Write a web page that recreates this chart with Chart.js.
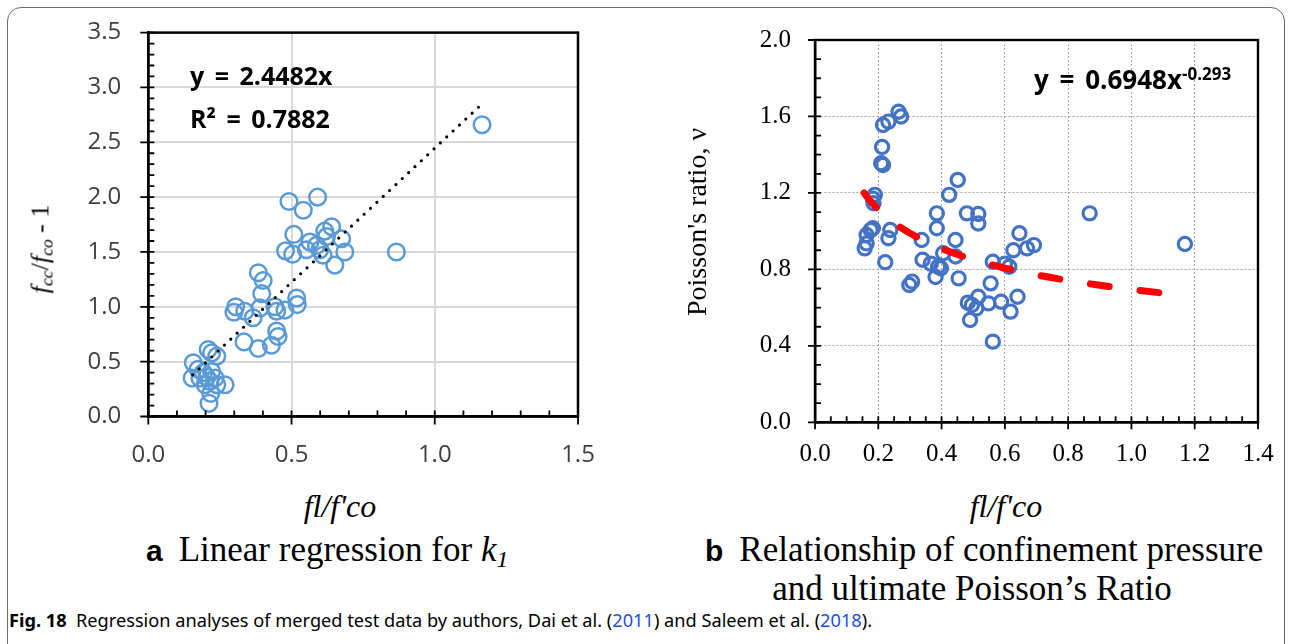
<!DOCTYPE html>
<html>
<head>
<meta charset="utf-8">
<script src="https://cdn.jsdelivr.net/npm/chart.js@4.4.0/dist/chart.umd.min.js"></script>
<style>
  body { margin: 0; width: 1290px; height: 644px; overflow: hidden; position: relative; background: #fff; font-family: 'Liberation Serif', serif; color: #000; }
  .frame { position: absolute; left: 7px; top: 7px; width: 1276px; height: 652px; border: 1.5px solid #6b6b6b; border-radius: 14px; }
  canvas { position: absolute; top: 0; }
  #c1 { left: 0; }
  #c2 { left: 640px; }
  .t { position: absolute; white-space: nowrap; line-height: 1; }
  .eq { font-family: 'Open Sans', sans-serif; font-weight: 700; font-size: 25px; word-spacing: 4px; }
  .ttl { font-style: italic; font-size: 32px; transform: translate(-50%, -50%); }
  .rot { transform: translate(-50%, -50%) rotate(-90deg); }
  sub { font-size: 0.68em; vertical-align: -0.25em; }
  .cap { font-size: 35px; }
  .cap b { font-family: 'Liberation Sans', sans-serif; font-size: 30px; margin-right: 16px; }
  .fig { font-family: 'Noto Sans', sans-serif; font-size: 18.2px; }
  .fig a { color: #2450d6; text-decoration: none; }
</style>
</head>
<body>
<div class="frame"></div>
<canvas id="c1" width="640" height="480"></canvas>
<canvas id="c2" width="650" height="480"></canvas>

<div class="t eq" style="left:190px;top:63px">y = 2.4482x</div>
<div class="t eq" style="left:190px;top:106px">R² = 0.7882</div>
<div class="t eq" style="left:1034px;top:65px;font-size:26px">y = 0.6948x<sup style="font-size:17px;vertical-align:9px">-0.293</sup></div>

<div class="t rot" style="left:42px;top:249px;font-size:26px"><i>f</i><sub><i>cc</i></sub>/<i>f</i><sub><i>co</i></sub> - 1</div>
<div class="t ttl" style="left:340px;top:506px">fl/f'co</div>
<div class="t rot" style="left:697px;top:222px;font-size:28px">Poisson's ratio, ν</div>
<div class="t ttl" style="left:1006px;top:506px">fl/f'co</div>

<div class="t cap" style="left:146px;top:532px"><b>a</b>Linear regression for <i>k<sub>1</sub></i></div>
<div class="t cap" style="left:705px;top:532px"><b>b</b>Relationship of confinement pressure</div>
<div class="t cap" style="left:972px;top:571px;transform:translateX(-50%)">and ultimate Poisson’s Ratio</div>
<div class="t fig" style="left:9px;top:611px"><b>Fig. 18</b>&nbsp; Regression analyses of merged test data by authors, Dai et al. (<a>2011</a>) and Saleem et al. (<a>2018</a>).</div>

<script>
// (a) fl/f'co vs fcc/fco - 1
const leftX = [1.165, 0.866, 0.491, 0.591, 0.541, 0.508, 0.640, 0.616, 0.622, 0.675, 0.564, 0.479, 0.504, 0.552, 0.587, 0.610, 0.686, 0.651, 0.599,
  0.384, 0.401, 0.396, 0.305, 0.299, 0.337, 0.366, 0.390, 0.442, 0.477, 0.518, 0.520, 0.448, 0.448, 0.453, 0.430, 0.384, 0.334,
  0.157, 0.153, 0.209, 0.221, 0.239, 0.174, 0.192, 0.204, 0.215, 0.233, 0.198, 0.239, 0.268, 0.218, 0.212, 0.180, 0.221];
const leftY = [2.66, 1.50, 1.96, 2.00, 1.88, 1.66, 1.73, 1.69, 1.64, 1.62, 1.59, 1.51, 1.48, 1.52, 1.56, 1.47, 1.50, 1.38, 1.52,
  1.31, 1.24, 1.12, 1.00, 0.95, 0.96, 0.90, 0.99, 1.00, 0.97, 1.08, 1.02, 0.96, 0.78, 0.73, 0.65, 0.62, 0.68,
  0.49, 0.35, 0.61, 0.58, 0.55, 0.43, 0.40, 0.36, 0.32, 0.35, 0.29, 0.29, 0.29, 0.21, 0.12, 0.35, 0.41];
const leftFitX = [0.155, 1.165];
const leftFitY = [0.38, 2.85];

// (b) fl/f'co vs Poisson's ratio
const rightX = [0.264, 0.272, 0.215, 0.232, 0.212, 0.209, 0.215, 0.189, 0.183, 0.185, 0.163, 0.157, 0.163, 0.176, 0.183, 0.232, 0.238, 0.222,
  0.298, 0.307, 0.337, 0.340, 0.366, 0.385, 0.385, 0.381, 0.389, 0.398, 0.405, 0.424, 0.444, 0.451, 0.444, 0.454, 0.480, 0.483,
  0.490, 0.496, 0.516, 0.516, 0.516, 0.510, 0.548, 0.555, 0.562, 0.562, 0.588, 0.600, 0.614, 0.618, 0.627, 0.640, 0.646, 0.670,
  0.692, 0.868, 1.169];
const rightY = [1.625, 1.60, 1.555, 1.573, 1.44, 1.355, 1.346, 1.19, 1.17, 1.146, 0.98, 0.91, 0.936, 1.006, 1.015, 0.963, 1.006, 0.837,
  0.718, 0.736, 0.954, 0.85, 0.83, 1.093, 1.015, 0.76, 0.814, 0.806, 0.884, 1.19, 0.954, 1.268, 0.867, 0.753, 1.093, 0.626,
  0.535, 0.614, 1.09, 1.04, 0.657, 0.596, 0.622, 0.727, 0.84, 0.422, 0.631, 0.83, 0.814, 0.579, 0.90, 0.657, 0.989, 0.91,
  0.927, 1.093, 0.933];
const rightFitX = [0.155, 0.17, 0.2, 0.25, 0.3, 0.4, 0.5, 0.6, 0.7, 0.8, 0.9, 1.0, 1.12];
const rightFitY = [1.20, 1.168, 1.113, 1.043, 0.989, 0.909, 0.851, 0.807, 0.771, 0.742, 0.717, 0.695, 0.672];

const pts = (xs, ys) => xs.map((x, i) => ({ x, y: ys[i] }));

// frame box + major/minor ticks, drawn from the chart's own scales
const frameTicks = {
  id: 'frameTicks',
  afterDraw(chart, args, o) {
    const { ctx, chartArea: a, scales: { x, y } } = chart;
    ctx.save();
    ctx.strokeStyle = '#000';
    ctx.lineWidth = 1.8;
    ctx.beginPath();
    for (let v = x.min; v <= x.max + 1e-9; v += o.xMinor) {
      const px = x.getPixelForValue(v);
      ctx.moveTo(px, a.bottom); ctx.lineTo(px, a.bottom - o.minorLen);
    }
    for (let v = y.min; v <= y.max + 1e-9; v += o.yMinor) {
      const py = y.getPixelForValue(v);
      ctx.moveTo(a.left, py); ctx.lineTo(a.left + o.minorLen, py);
    }
    x.ticks.forEach(t => {
      const px = x.getPixelForValue(t.value);
      ctx.moveTo(px, a.bottom - o.majorIn); ctx.lineTo(px, a.bottom + o.majorOut);
    });
    y.ticks.forEach(t => {
      const py = y.getPixelForValue(t.value);
      ctx.moveTo(a.left + o.majorIn, py); ctx.lineTo(a.left - o.majorOut, py);
    });
    ctx.stroke();
    ctx.lineWidth = o.frameWidth;
    ctx.strokeRect(a.left, a.top, a.right - a.left, a.bottom - a.top);
    ctx.restore();
  }
};

Chart.defaults.animation = false;

new Chart(document.getElementById('c1'), {
  type: 'scatter',
  data: {
    datasets: [
      { data: pts(leftFitX, leftFitY), showLine: true, borderColor: '#000', borderWidth: 3.2, borderDash: [0, 8.7],
        borderCapStyle: 'round', pointRadius: 0, fill: false },
      { data: pts(leftX, leftY), pointRadius: 8.3, borderWidth: 2.5, borderColor: '#5B9BD5', backgroundColor: 'rgba(0,0,0,0)' }
    ]
  },
  options: {
    responsive: false, devicePixelRatio: 1,
    layout: { padding: { left: 0, top: 32.6, right: 62, bottom: 0 } },
    plugins: { legend: { display: false }, tooltip: { enabled: false },
      frameTicks: { xMinor: 0.1, yMinor: 0.1, minorLen: 6, majorIn: 6, majorOut: 8, frameWidth: 2.5 } },
    scales: {
      x: {
        type: 'linear', min: 0, max: 1.5,
        afterFit: s => { s.height = 63.5; },
        ticks: { stepSize: 0.5, padding: 24, color: '#404040', font: { family: 'Open Sans', size: 24 },
          callback: v => v.toFixed(1), maxRotation: 0, autoSkip: false },
        grid: { color: '#d9d9d9', lineWidth: 2, drawTicks: false },
        border: { color: '#000', width: 2.5 }
      },
      y: {
        type: 'linear', min: 0, max: 3.5,
        afterFit: s => { s.width = 148.3; s.paddingTop = 0; s.paddingBottom = 0; },
        ticks: { stepSize: 0.5, padding: 27, color: '#404040', font: { family: 'Open Sans', size: 24 },
          callback: v => v.toFixed(1), autoSkip: false },
        grid: { color: '#d9d9d9', lineWidth: 2, drawTicks: false },
        border: { color: '#000', width: 2.5 }
      }
    }
  },
  plugins: [frameTicks]
});

new Chart(document.getElementById('c2'), {
  type: 'scatter',
  data: {
    datasets: [
      { data: pts(rightFitX, rightFitY), showLine: true, borderColor: '#FF0000', borderWidth: 7, borderDash: [19, 31],
        borderCapStyle: 'round', cubicInterpolationMode: 'monotone', pointRadius: 0, fill: false },
      { data: pts(rightX, rightY), pointRadius: 6.6, borderWidth: 3.2, borderColor: '#4472C4', backgroundColor: 'rgba(0,0,0,0)' }
    ]
  },
  options: {
    responsive: false, devicePixelRatio: 1,
    layout: { padding: { left: 0, top: 40, right: 32, bottom: 0 } },
    plugins: { legend: { display: false }, tooltip: { enabled: false },
      frameTicks: { xMinor: 0.05, yMinor: 0.1, minorLen: 6, majorIn: 6, majorOut: 7, frameWidth: 2.4 } },
    scales: {
      x: {
        type: 'linear', min: 0, max: 1.4,
        afterFit: s => { s.height = 57.7; s.paddingLeft = 0; s.paddingRight = 0; },
        ticks: { stepSize: 0.2, padding: 17, color: '#000', font: { family: 'Liberation Serif', size: 25 },
          callback: v => v.toFixed(1), maxRotation: 0, autoSkip: false },
        grid: { color: '#a6a6a6', lineWidth: 1, drawTicks: false },
        border: { color: '#000', width: 2.4, dash: [2, 2] }
      },
      y: {
        type: 'linear', min: 0, max: 2.0,
        afterFit: s => { s.width = 175; s.paddingTop = 0; s.paddingBottom = 0; },
        ticks: { stepSize: 0.4, padding: 24, color: '#000', font: { family: 'Liberation Serif', size: 25 },
          callback: v => v.toFixed(1), autoSkip: false },
        grid: { color: '#a6a6a6', lineWidth: 1, drawTicks: false },
        border: { color: '#000', width: 2.4, dash: [2, 2] }
      }
    }
  },
  plugins: [frameTicks]
});
</script>
</body>
</html>
